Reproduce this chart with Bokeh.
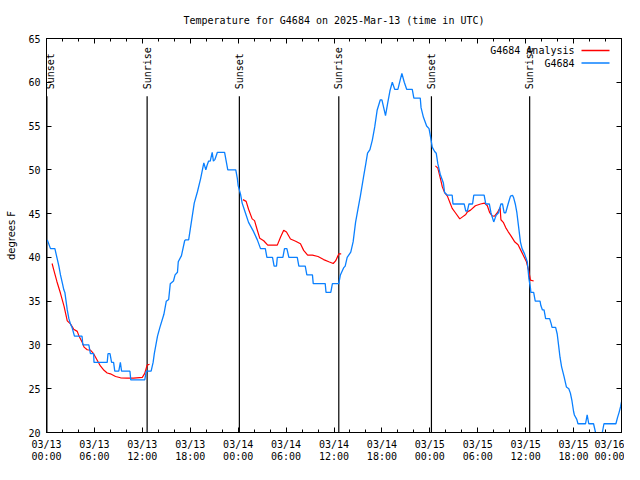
import math
from bokeh.plotting import figure
from bokeh.models import (Range1d, FixedTicker, LinearAxis, Label, LabelSet,
                          BoxAnnotation, ColumnDataSource)
from bokeh.core.properties import value
from bokeh.embed import file_html
from bokeh.resources import INLINE

# ---------------- data ----------------
title_text = "Temperature for G4684 on 2025-Mar-13 (time in UTC)"
y_label = "degrees F"

tick_hours = [0, 6, 12, 18, 24, 30, 36, 42, 48, 54, 60, 66, 72]
minor_hours = [2, 4, 8, 10, 14, 16, 20, 22, 26, 28, 32, 34, 38, 40, 44, 46,
               50, 52, 56, 58, 62, 64, 68, 70]
tick_dates = ["03/13", "03/13", "03/13", "03/13", "03/14", "03/14", "03/14",
              "03/14", "03/15", "03/15", "03/15", "03/15", "03/16"]
tick_times = ["00:00", "06:00", "12:00", "18:00", "00:00", "06:00", "12:00",
              "18:00", "00:00", "06:00", "12:00", "18:00", "00:00"]
y_ticks = [20, 25, 30, 35, 40, 45, 50, 55, 60, 65]

event_hours = [0.05, 12.6, 24.15, 36.6, 48.2, 60.5]
event_labels = ["Sunset", "Sunrise", "Sunset", "Sunrise", "Sunset", "Sunrise"]

obs_name = "G4684"
obs_hours = [0.1, 0.5, 1.05, 1.3, 1.55, 1.75, 2.0, 2.17, 2.3, 2.45, 2.6, 2.8, 3.0,
             3.2, 3.5, 4.45, 4.55, 5.3, 5.5, 5.9, 5.95, 7.6, 7.7, 7.95, 8.15, 8.4,
             8.55, 9.05, 9.25, 9.4, 10.45, 10.55, 12.3, 12.5, 13.1, 13.35, 13.5,
             13.7, 13.9, 14.2, 14.7, 15.0, 15.3, 15.5, 15.9, 16.1, 16.4, 16.5,
             16.9, 17.3, 17.4, 17.8, 18.0, 18.5, 18.9, 19.3, 19.7, 19.95, 20.1,
             20.3, 20.5, 20.75, 20.9, 21.1, 21.4, 22.3, 22.5, 22.7, 23.7, 23.9,
             24.0, 24.3, 24.5, 24.9, 25.3, 25.9, 26.4, 26.8, 27.4, 27.6, 28.3,
             28.5, 28.8, 28.9, 29.6, 29.8, 30.1, 30.35, 31.4, 31.6, 32.4, 32.6,
             33.3, 33.4, 34.9, 35.0, 35.6, 35.8, 36.6, 36.8, 37.2, 37.4, 37.65,
             38.1, 38.4, 38.7, 39.0, 39.3, 39.7, 40.0, 40.2, 40.5, 40.8, 41.1,
             41.4, 41.8, 42.0, 42.45, 42.7, 43.0, 43.3, 43.6, 44.0, 44.3, 44.5,
             44.8, 45.1, 45.8, 46.0, 46.8, 46.9, 47.2, 47.6, 47.9, 48.1, 48.3,
             48.6, 48.8, 49.0, 49.3, 49.7, 49.85, 50.2, 50.8, 50.9, 52.3, 52.5,
             52.7, 52.9, 53.35, 53.5, 54.8, 55.0, 55.45, 55.65, 56.0, 56.3, 56.6,
             56.9, 57.1, 57.3, 57.5, 57.8, 58.1, 58.35, 58.5, 58.7, 58.9, 59.1,
             59.35, 59.55, 59.86, 60.2, 60.3, 60.4, 60.6, 60.65, 61.0, 61.2,
             61.8, 61.9, 62.1, 62.3, 62.5, 63.0, 63.2, 63.3, 63.75, 63.95, 64.15,
             64.3, 64.5, 64.8, 65.1, 65.4, 65.6, 65.8, 66.0, 66.1, 66.4, 66.55,
             67.5, 67.7, 67.9, 68.5, 68.75, 68.9, 69.5, 69.6, 69.8, 71.3, 71.5,
             71.7, 71.9, 72.0]
obs_temps = [42, 41, 41, 40, 39, 38, 37, 36.3, 36, 35, 34, 33, 32.4,
             32, 31, 31, 30, 30, 29, 29, 28, 28, 29, 29, 28, 28,
             27, 27, 28, 27, 27, 26, 26, 27, 27, 28, 29,
             30, 31, 32, 33.5, 35, 35.2, 37, 37.3, 38, 38.3, 39.5,
             40.2, 41.9, 42, 42, 43.2, 46.2, 47.5, 49, 50.8, 50, 50.5,
             51, 51, 52, 51, 51.2, 52, 52, 51, 50, 50, 49,
             48.2, 47.2, 46.2, 45.1, 44, 43, 42, 41, 41, 40, 40,
             39, 39, 40, 40, 41, 41, 40, 40, 39, 39, 38,
             38, 37, 37, 36, 36, 37, 37, 38, 38.8, 39, 40,
             40.6, 41.8, 44, 45.5, 47, 49.2, 50.8, 51.9, 52.3, 53.4, 54.9,
             56.8, 58, 58, 56.2, 57.5, 59, 60, 59.2, 59.2, 60.3, 61,
             60, 59.2, 59.2, 58.2, 58.2, 57.1, 56, 55, 54.7, 53.7, 52.6,
             52.1, 51.9, 50.7, 49.5, 48.5, 47.4, 47.1, 47.1, 46.1, 46.1, 45.3,
             45.3, 46.1, 46.1, 47.1, 47.1, 46.1, 46.1, 45.1, 44.05, 44.8, 45.1,
             46.1, 46.1, 45.1, 45.1, 46.1, 47, 47.1, 46.8, 46.1, 45.1, 43.6,
             41.75, 41, 40.4, 39.5, 38.6, 37.6, 36.5, 36, 36, 35,
             35, 34.5, 34, 34, 33, 33, 32.4, 32, 32, 31.25, 29.75,
             28.6, 27.5, 26.4, 25.2, 25, 24.5, 23.6, 22.4, 22, 21.5, 21,
             21, 22, 21, 21, 20, 19, 19, 20, 21, 21, 21.7,
             22.3, 23, 23.5]

analysis_name = "G4684 Analysis"
analysis_hours = [
    [0.7, 0.9, 1.3, 1.75, 2.2, 2.6, 3.0, 3.4, 3.85, 4.05, 4.47, 4.7, 5.1, 5.5,
     5.9, 6.35, 6.75, 7.2, 7.6, 8.0, 8.65, 9.27, 10.1, 10.9, 12.0, 12.3, 12.6,
     12.9],
    [24.6, 25.0, 25.3, 25.75, 26.05, 26.4, 26.7, 27.2, 27.7, 28.9, 29.3, 29.7,
     30.05, 30.55, 31.2, 31.8, 32.2, 32.7, 33.3, 34.0, 34.7, 35.35, 35.9, 36.2,
     36.6, 36.9],
    [48.7, 49.0, 49.35, 49.55, 49.85, 50.2, 50.5, 50.8, 51.2, 51.75, 52.05,
     52.5, 52.7, 53.1, 53.7, 54.35, 54.85, 55.2, 55.5, 55.8, 56.1, 56.45, 56.8,
     56.9, 57.2, 57.5, 57.8, 58.2, 58.65, 59.05, 59.4, 59.7, 60.1, 60.4, 60.6,
     61.0],
]
analysis_temps = [
    [39.3, 38.6, 37.25, 35.9, 34.4, 32.75, 32.4, 31.8, 31.55, 31.06, 30.3,
     29.75, 29.45, 29.4, 29, 28.25, 27.6, 27.1, 26.8, 26.7, 26.4, 26.25, 26.2,
     26.2, 26.3, 26.75, 27.7, 27.8],
    [46.6, 46.4, 45.5, 44.4, 44.2, 43.1, 42.2, 41.9, 41.4, 41.4, 42.3, 43.1,
     42.9, 42.1, 41.85, 41.55, 40.8, 40.25, 40.25, 40.1, 39.75, 39.5, 39.3,
     39.6, 40.4, 40.4],
    [50.45, 50.2, 48.9, 48.1, 47.4, 47, 46.3, 45.6, 45.1, 44.4, 44.6, 44.9,
     45.2, 45.4, 45.9, 46.1, 46.2, 45.9, 45.1, 44.75, 44.7, 45.1, 45.7, 44.3,
     44, 43.4, 42.95, 42.4, 41.75, 41.45, 40.8, 40.25, 39.5, 38.4, 37.4, 37.3],
]

# ---------------- styling ----------------
MONO = "DejaVu Sans Mono"
SANS = "DejaVu Sans"
FS = "10px"
RED = "#ff0000"
BLUE = "#0a80ff"

p = figure(width=624, height=464, output_backend="svg", toolbar_location=None,
           x_range=Range1d(0, 72), y_range=Range1d(20, 65),
           min_border_left=46, min_border_right=3, min_border_top=38,
           min_border_bottom=30)
p.background_fill_color = "white"
p.border_fill_color = "white"
p.outline_line_color = "black"
p.outline_line_width = 1
p.grid.visible = False

p.title.text = title_text
p.title.align = "center"
p.title.vertical_align = "top"
p.title.text_font = MONO
p.title.text_font_size = FS
p.title.text_font_style = "normal"
p.title.text_color = "black"
p.title.standoff = 21

xticker = FixedTicker(ticks=tick_hours, minor_ticks=minor_hours)
yticker = FixedTicker(ticks=y_ticks, minor_ticks=[])

def style_axis(ax):
    ax.axis_line_color = "black"
    ax.major_tick_line_color = "black"
    ax.minor_tick_line_color = "black"
    ax.major_tick_in = 5
    ax.major_tick_out = 0
    ax.minor_tick_in = 3
    ax.minor_tick_out = 0
    ax.major_label_text_font = MONO
    ax.major_label_text_font_size = FS
    ax.major_label_text_color = "black"

xa = p.xaxis[0]
xa.ticker = xticker
style_axis(xa)
xa.major_label_overrides = {h: d for h, d in zip(tick_hours, tick_dates)}
xa.major_label_standoff = 6

xa2 = LinearAxis(ticker=xticker)
style_axis(xa2)
xa2.axis_line_color = None
xa2.major_tick_line_color = None
xa2.minor_tick_line_color = None
xa2.major_label_overrides = {h: t for h, t in zip(tick_hours, tick_times)}
xa2.major_label_standoff = -2
p.add_layout(xa2, "below")

ya = p.yaxis[0]
ya.ticker = yticker
style_axis(ya)
ya.major_label_standoff = 6
ya.axis_label = y_label
ya.axis_label_text_font = SANS
ya.axis_label_text_font_size = FS
ya.axis_label_text_font_style = "normal"
ya.axis_label_text_color = "black"
ya.axis_label_standoff = 8

top = LinearAxis(ticker=xticker)
style_axis(top)
top.major_label_overrides = {h: "" for h in tick_hours}
top.major_label_standoff = 0
p.add_layout(top, "above")

right = LinearAxis(ticker=yticker)
style_axis(right)
right.major_label_overrides = {t: "" for t in y_ticks}
right.major_label_standoff = 0
p.add_layout(right, "right")

# sunrise / sunset markers
ev = ColumnDataSource(dict(x=event_hours[1:], lab=event_labels[1:]))
p.segment(x0=event_hours, y0=20, x1=event_hours, y1=58.4, line_color="black",
          line_width=1.2)
p.add_layout(LabelSet(x="x", y=59.2, text="lab", source=ev, angle=math.pi / 2,
                      text_align="left", text_baseline="middle",
                      text_font=value(MONO), text_font_size=value(FS),
                      text_color="black"))
# first marker sits on the frame edge: nudge its label inside so it is not clipped
p.add_layout(Label(x=event_hours[0], y=59.2, text=event_labels[0],
                   angle=math.pi / 2, x_offset=4, text_align="left",
                   text_baseline="middle", text_font=MONO, text_font_size=FS,
                   text_color="black"))

# data
p.multi_line(xs=analysis_hours, ys=analysis_temps, line_color=RED,
             line_width=1.2)
p.line(obs_hours, obs_temps, line_color=BLUE, line_width=1.3)

# legend (gnuplot style: label then sample), frame-relative screen units
for i, (name, col) in enumerate([(analysis_name, RED), (obs_name, BLUE)]):
    yy = 382 - 12.5 * i
    p.add_layout(Label(x=528, y=yy, x_units="screen", y_units="screen",
                       text=name, text_align="right", text_baseline="middle",
                       text_font=MONO, text_font_size=FS, text_color="black"))
    p.add_layout(BoxAnnotation(left=535, right=563, bottom=yy - 0.7,
                               top=yy + 0.7, left_units="screen",
                               right_units="screen", bottom_units="screen",
                               top_units="screen", fill_color=col,
                               fill_alpha=1, line_color=None))

open("out.html", "w").write(file_html(p, INLINE))
